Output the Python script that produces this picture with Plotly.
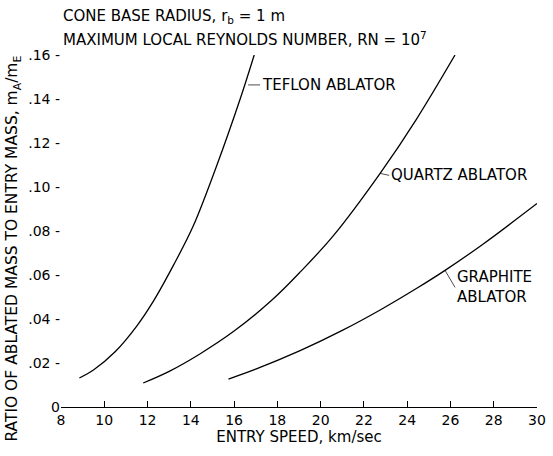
import plotly.graph_objects as go

# Data
teflon_speed = [8.85, 9.5, 10.5, 11.5, 12.3, 13.2, 14.1, 15.2, 16.28, 16.93]
teflon_ratio = [0.0132, 0.0168, 0.0251, 0.0368, 0.0486, 0.0645, 0.082, 0.1098, 0.140, 0.160]

quartz_speed = [11.8, 13.0, 14.4, 16.0, 17.75, 19.06, 20.6, 22.75, 24.44, 26.21]
quartz_ratio = [0.0109, 0.0162, 0.0240, 0.0345, 0.0486, 0.0614, 0.078, 0.1062, 0.131, 0.160]

graphite_speed = [15.74, 17.0, 19.05, 21.0, 22.75, 24.5, 25.75, 27.5, 30.0]
graphite_ratio = [0.0127, 0.0172, 0.0256, 0.0348, 0.0441, 0.0543, 0.0621, 0.0740, 0.0925]

x_ticks = [8, 10, 12, 14, 16, 18, 20, 22, 24, 26, 28, 30]
x_ticklabels = ["8", "10", "12", "14", "16", "18", "20", "22", "24", "26", "28", "30"]
y_ticks = [0, 0.02, 0.04, 0.06, 0.08, 0.10, 0.12, 0.14, 0.16]
y_ticklabels = ["0", ".02 -", ".04 -", ".06 -", ".08 -", ".10 -", ".12 -", ".14 -", ".16 -"]

FONT = "DejaVu Sans"
fig = go.Figure()
for xs, ys in [(teflon_speed, teflon_ratio), (quartz_speed, quartz_ratio), (graphite_speed, graphite_ratio)]:
    fig.add_trace(go.Scatter(x=xs, y=ys, mode="lines",
                             line=dict(color="black", width=1.3, shape="spline", smoothing=1.0),
                             showlegend=False, hoverinfo="skip"))

ann_font = dict(family=FONT, size=15, color="black")
fig.add_annotation(x=16.65, y=0.1464, text="TEFLON ABLATOR", showarrow=True, arrowhead=0,
                   arrowwidth=0.7, arrowcolor="black", ax=12, ay=0, xanchor="left",
                   font=ann_font)
fig.add_annotation(x=22.75, y=0.1062, text="QUARTZ ABLATOR", showarrow=True, arrowhead=0,
                   arrowwidth=0.7, arrowcolor="black", ax=9, ay=2, xanchor="left",
                   font=ann_font)
fig.add_annotation(x=25.75, y=0.0621, text="GRAPHITE<br>ABLATOR", showarrow=True, arrowhead=0,
                   arrowwidth=0.7, arrowcolor="black", ax=10, ay=17, xanchor="left",
                   yanchor="middle", align="left", font=ann_font)

fig.add_annotation(xref="paper", yref="paper", x=0.0, y=1.0, yshift=39, xanchor="left",
                   yanchor="middle", showarrow=False, align="left",
                   text="CONE BASE RADIUS, r<sub>b</sub> = 1 m", font=ann_font)
fig.add_annotation(xref="paper", yref="paper", x=0.0, y=1.0, yshift=16, xanchor="left",
                   yanchor="middle", showarrow=False, align="left",
                   text="MAXIMUM LOCAL REYNOLDS NUMBER, RN = 10<sup>7</sup>", font=ann_font)

# y-axis title as rotated annotation
fig.add_annotation(xref="paper", yref="paper", x=0.0, y=0.45, xshift=-48, xanchor="center",
                   yanchor="middle", showarrow=False, textangle=-90,
                   text="RATIO OF ABLATED MASS TO ENTRY MASS, m<sub>A</sub>/m<sub>E</sub>",
                   font=dict(family=FONT, size=15.5, color="black"))

fig.update_layout(
    width=553, height=456,
    margin=dict(l=61, r=16, t=55, b=49),
    paper_bgcolor="white", plot_bgcolor="white",
    font=dict(family=FONT, size=14, color="black"),
    xaxis=dict(range=[8, 30], tickvals=x_ticks, ticktext=x_ticklabels, automargin=False,
               showgrid=False, zeroline=False, showline=True, linecolor="black", linewidth=1,
               ticks="inside", ticklen=6, tickcolor="black", tickwidth=1,
               title=dict(text="ENTRY SPEED, km/sec", standoff=4, font=dict(size=15))),
    yaxis=dict(range=[0, 0.16], tickvals=y_ticks, ticktext=y_ticklabels, automargin=False,
               showgrid=False, zeroline=False, showline=False, ticks=""),
)
# remove the default 8px page margin so the figure fills the window exactly
fig.write_html("out.html", config={"displayModeBar": False},
               post_script="document.body.style.margin='0';")
